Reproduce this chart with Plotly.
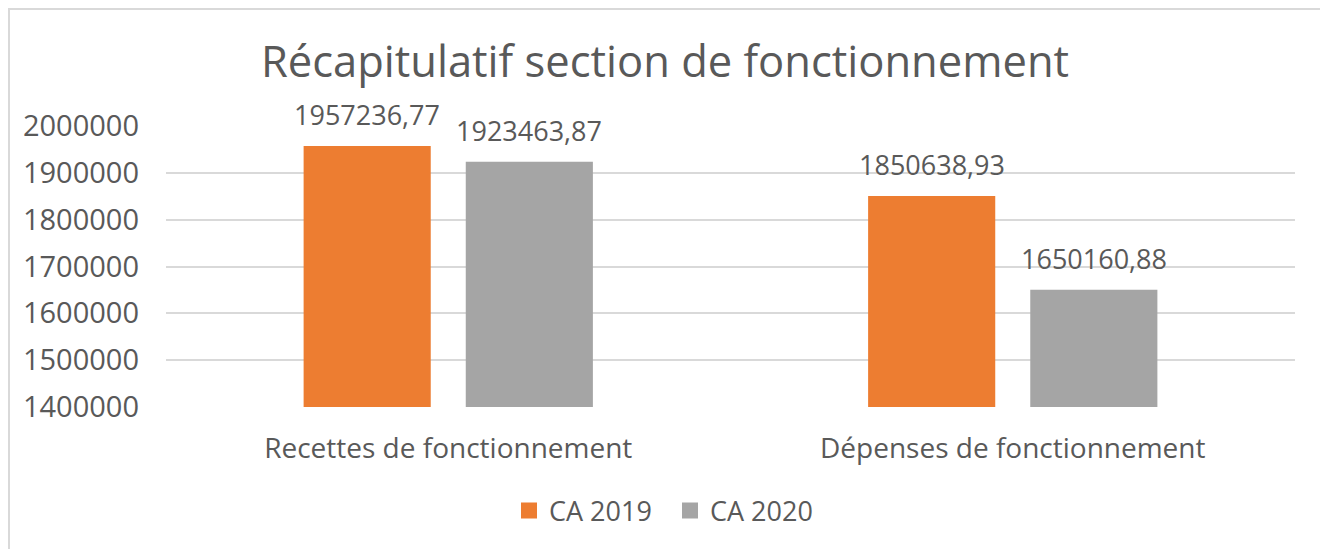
import plotly.graph_objects as go

categories = ["Recettes de fonctionnement", "Dépenses de fonctionnement"]
series_names = ["CA 2019", "CA 2020"]
ca2019 = [1957236.77, 1850638.93]
ca2020 = [1923463.87, 1650160.88]
labels2019 = ["1957236,77", "1850638,93"]
labels2020 = ["1923463,87", "1650160,88"]
y_ticks = [1400000, 1500000, 1600000, 1700000, 1800000, 1900000, 2000000]

ORANGE = "#ED7D31"
GRAY = "#A5A5A5"
TXT = "#595959"
FONT = "Open Sans"

# page body has an 8px default margin; figure is sized to fit the window
W, H = 1320, 541
ML, MR, MT, MB = 158, 33, 118, 142
PW = W - ML - MR
PH = H - MT - MB

fig = go.Figure()
for name, vals, col in [(series_names[0], ca2019, ORANGE), (series_names[1], ca2020, GRAY)]:
    fig.add_trace(go.Bar(x=categories, y=vals, name=name, marker_color=col,
                         marker_line_width=0, showlegend=False))
# legend proxies with larger square symbols
for name, col in [(series_names[0], ORANGE), (series_names[1], GRAY)]:
    fig.add_trace(go.Scatter(x=[None], y=[None], mode="markers", name=name,
                             marker=dict(symbol="square", size=18, color=col)))

# data labels above bars
for vals, labs, shift in [(ca2019, labels2019, -81), (ca2020, labels2020, 81)]:
    for c, v, t in zip(categories, vals, labs):
        fig.add_annotation(x=c, y=v, text=t, showarrow=False, xshift=shift,
                           yanchor="bottom", yshift=11,
                           font=dict(family=FONT, size=27, color=TXT))

fig.add_shape(type="rect", xref="paper", yref="paper",
              x0=(1 - ML) / PW, x1=(1316 - ML) / PW,
              y0=(MT + PH - 560) / PH, y1=(MT + PH - 1) / PH,
              line=dict(color="#D9D9D9", width=2), layer="below")

fig.update_layout(
    width=W, height=H,
    margin=dict(l=ML, r=MR, t=MT, b=MB),
    paper_bgcolor="white", plot_bgcolor="white",
    barmode="group", bargap=0.4255, bargroupgap=0.216,
    title=dict(text="Récapitulatif section de fonctionnement", x=(665 - 8) / W, xanchor="center",
               y=1 - 54 / H, yanchor="middle", yref="container",
               font=dict(family=FONT, size=43.5, color=TXT)),
    font=dict(family=FONT, color=TXT),
    legend=dict(orientation="h", x=(670 - 166) / PW, xanchor="center", y=-104 / PH,
                yanchor="middle", font=dict(family=FONT, size=27, color=TXT),
                itemsizing="trace", itemwidth=30,
                entrywidth=116, entrywidthmode="pixels"),
    xaxis=dict(showline=False, ticks="", tickfont=dict(family=FONT, size=28, color=TXT),
               ticklabelstandoff=22),
    yaxis=dict(range=[1400000, 2000000], tickvals=y_ticks,
               ticktext=[str(v) for v in y_ticks],
               showgrid=True, gridcolor="#D9D9D9", gridwidth=2, zeroline=False,
               showline=False, ticks="", ticklabelstandoff=26,
               tickfont=dict(family=FONT, size=29, color=TXT)),
)

fig.write_html("out.html")
